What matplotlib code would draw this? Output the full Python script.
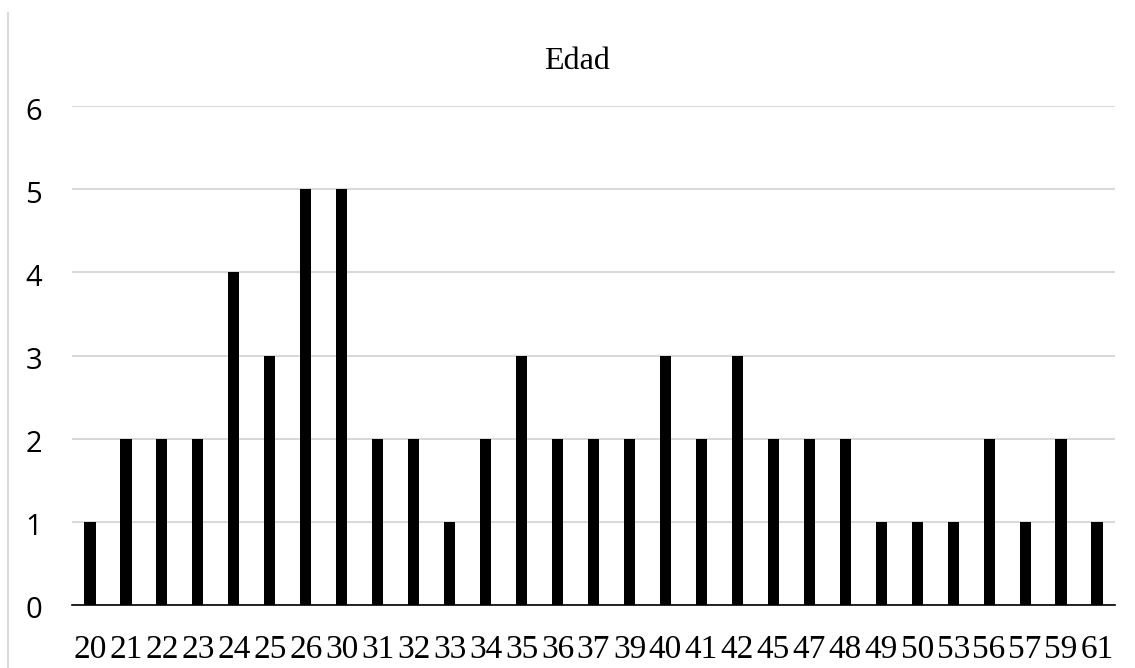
import numpy as np
import matplotlib
matplotlib.use('Agg')
import matplotlib.pyplot as plt
from matplotlib.lines import Line2D

# Datos
edades = ['20', '21', '22', '23', '24', '25', '26', '30', '31', '32', '33', '34', '35', '36', '37',
          '39', '40', '41', '42', '45', '47', '48', '49', '50', '53', '56', '57', '59', '61']
frecuencia = [1, 2, 2, 2, 4, 3, 5, 5, 2, 2, 1, 2, 3, 2, 2,
              2, 3, 2, 3, 2, 2, 2, 1, 1, 1, 2, 1, 2, 1]
marcas_y = [0, 1, 2, 3, 4, 5, 6]

fig = plt.figure(figsize=(11.35, 6.68), dpi=100)
ax = fig.add_axes([72 / 1135, 63 / 668, 1043 / 1135, 499 / 668])

x = np.arange(len(edades))
ax.bar(x, frecuencia, width=0.31, color='black', zorder=3)

ax.set_xlim(-0.5, len(edades) - 0.5)
ax.set_ylim(0, 6)
ax.set_yticks(marcas_y)
ax.set_yticklabels([])
ax.set_xticks(x)
ax.set_xticklabels(edades, fontsize=24, family='Liberation Serif')

# etiquetas del eje y un poco por debajo de la línea, como en Excel
for v in marcas_y:
    ax.annotate(str(v), xy=(0, v), xycoords=('axes fraction', 'data'),
                xytext=(-30, -6), textcoords='offset pixels',
                ha='right', va='center', fontsize=21, family='Open Sans')

ax.grid(axis='y', color='#d9d9d9', linewidth=1.5, zorder=0)
for s in ['top', 'right', 'left']:
    ax.spines[s].set_visible(False)
ax.spines['bottom'].set_color('black')
ax.spines['bottom'].set_linewidth(1.2)
ax.spines['bottom'].set_zorder(4)
ax.tick_params(axis='both', length=0)
ax.tick_params(axis='x', pad=21)

# Título
fig.text(577 / 1135, 1 - 69 / 668, 'Edad', ha='center', va='baseline',
         fontsize=23, family='Liberation Serif')

# Borde izquierdo
fig.add_artist(Line2D([8 / 1135, 8 / 1135], [0, 1 - 13 / 668],
                      transform=fig.transFigure, color='#d9d9d9', linewidth=1.5))

fig.savefig('out.png', dpi=100)
